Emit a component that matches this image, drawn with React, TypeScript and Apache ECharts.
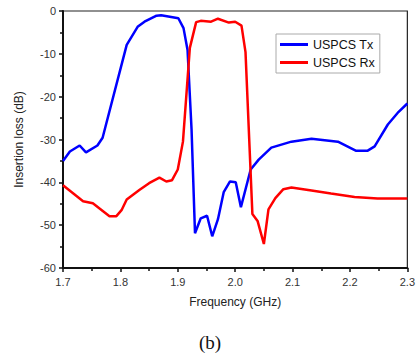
import React, { useEffect, useRef } from "react";
import * as echarts from "echarts";

const txFreq = [1.7, 1.712, 1.729, 1.74, 1.76, 1.769, 1.811, 1.83, 1.842, 1.863, 1.871, 1.901, 1.91, 1.917, 1.924, 1.93, 1.94, 1.951, 1.96, 1.97, 1.98, 1.991, 2.001, 2.01, 2.027, 2.041, 2.063, 2.098, 2.133, 2.179, 2.21, 2.231, 2.243, 2.266, 2.283, 2.3];
const txLoss = [-35, -32.8, -31.4, -33.0, -31.4, -29.6, -7.9, -3.7, -2.5, -1.1, -1.0, -1.7, -4.0, -9.1, -27.7, -51.9, -48.4, -47.8, -52.6, -48.6, -42.3, -39.8, -40, -45.8, -37, -34.7, -31.9, -30.5, -29.8, -30.5, -32.6, -32.6, -31.6, -26.5, -23.8, -21.6];

const rxFreq = [1.7, 1.735, 1.752, 1.781, 1.793, 1.802, 1.811, 1.833, 1.85, 1.868, 1.88, 1.89, 1.9, 1.909, 1.921, 1.932, 1.94, 1.958, 1.97, 1.989, 2.0, 2.011, 2.018, 2.03, 2.039, 2.05, 2.058, 2.07, 2.084, 2.098, 2.133, 2.167, 2.208, 2.248, 2.3];
const rxLoss = [-40.7, -44.4, -44.9, -47.9, -47.9, -46.5, -44.0, -41.8, -40.2, -38.9, -39.8, -39.5, -37, -30.5, -8.6, -2.6, -2.3, -2.5, -1.8, -2.7, -2.5, -3.4, -9.6, -47.4, -49, -54.4, -46.3, -43.7, -41.6, -41.2, -41.9, -42.6, -43.4, -43.8, -43.8];

const seriesNames = ["USPCS Tx", "USPCS Rx"];
const xTitle = "Frequency (GHz)";
const yTitle = "Insertion loss (dB)";
const caption = "(b)";

export default function App() {
  const ref = useRef<HTMLDivElement>(null);
  useEffect(() => {
    if (!ref.current) return;
    const chart = echarts.init(ref.current, null, { renderer: "svg" });
    const font = "'Liberation Sans', Arial, sans-serif";
    chart.setOption({
      animation: false,
      grid: {
        left: 63, right: 8, top: 11, bottom: 90,
        show: true, borderColor: "#222", borderWidth: 1.2, backgroundColor: "transparent",
      },
      legend: {
        orient: "vertical",
        left: 276, top: 34,
        data: seriesNames,
        icon: "rect",
        borderColor: "#aaa", borderWidth: 1,
        padding: [4, 5, 4, 4],
        itemGap: 5,
        itemWidth: 28, itemHeight: 3,
        textStyle: { fontFamily: font, fontSize: 12.5, color: "#111" },
      },
      xAxis: {
        type: "value",
        min: 1.7, max: 2.3, interval: 0.1,
        name: xTitle, nameLocation: "middle", nameGap: 28,
        nameTextStyle: { fontFamily: font, fontSize: 12, color: "#222" },
        axisLine: { show: true, onZero: false, lineStyle: { color: "#111", width: 2 } },
        axisTick: { show: true, inside: false, length: 4, lineStyle: { color: "#111", width: 1.5 } },
        minorTick: { show: true, splitNumber: 2, length: 3, lineStyle: { color: "#111", width: 1.5 } },
        splitLine: { show: false },
        axisLabel: {
          fontFamily: font, fontSize: 11, color: "#333", margin: 8,
          formatter: (v: number) => v.toFixed(1),
        },
      },
      yAxis: {
        type: "value",
        min: -60, max: 0, interval: 10,
        name: yTitle, nameLocation: "middle", nameGap: 38, nameRotate: 90,
        nameTextStyle: { fontFamily: font, fontSize: 12, color: "#222" },
        axisLine: { show: true, onZero: false, lineStyle: { color: "#111", width: 2 } },
        axisTick: { show: true, inside: false, length: 4, lineStyle: { color: "#111", width: 1.5 } },
        minorTick: { show: true, splitNumber: 2, length: 3, lineStyle: { color: "#111", width: 1.5 } },
        splitLine: { show: false },
        axisLabel: { fontFamily: font, fontSize: 11, color: "#333", margin: 7 },
      },
      series: [
        {
          name: seriesNames[0], type: "line", symbol: "none",
          data: txFreq.map((f, i) => [f, txLoss[i]]),
          lineStyle: { color: "#0000ff", width: 2.5 }, itemStyle: { color: "#0000ff" },
        },
        {
          name: seriesNames[1], type: "line", symbol: "none",
          data: rxFreq.map((f, i) => [f, rxLoss[i]]),
          lineStyle: { color: "#ff0000", width: 2.5 }, itemStyle: { color: "#ff0000" },
        },
      ],
      graphic: [
        {
          type: "text", left: 199, top: 333,
          style: { text: caption, fontFamily: "'Liberation Serif', 'Times New Roman', serif", fontSize: 19, fill: "#111" },
        },
      ],
    });
    return () => chart.dispose();
  }, []);
  return (
    <div
      ref={ref}
      style={{ position: "fixed", left: 0, top: 0, width: 418, height: 358, background: "#fff" }}
    />
  );
}
